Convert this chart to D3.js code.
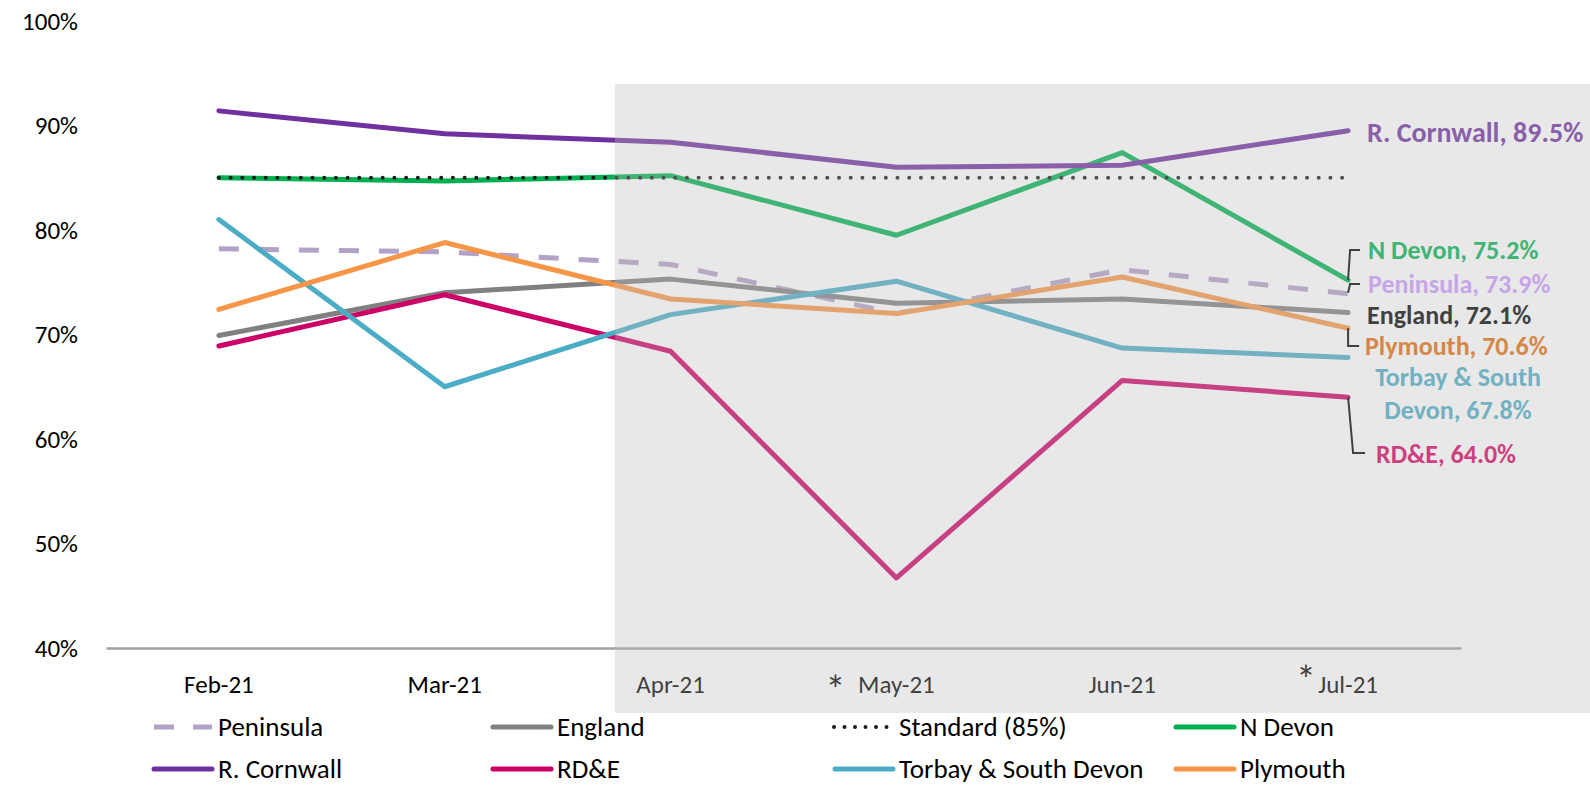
<!DOCTYPE html>
<html>
<head>
<meta charset="utf-8">
<script src="https://cdn.jsdelivr.net/npm/d3@7"></script>
<style>
  body { margin: 0; background: #fff; }
  svg { display: block; font-family: Carlito, Lato, sans-serif; }
</style>
</head>
<body>
<svg id="chart" width="1590" height="785"></svg>
<script>
// Chart data
const months = ["Feb-21", "Mar-21", "Apr-21", "May-21", "Jun-21", "Jul-21"];
const starred = ["May-21", "Jul-21"];
const yTicks = [40, 50, 60, 70, 80, 90, 100];

const peninsula = [78.2, 77.9, 76.7, 72.0, 76.2, 73.9];
const england = [69.9, 74.0, 75.3, 73.0, 73.4, 72.1];
const standard = [85, 85, 85, 85, 85, 85];
const nDevon = [85.0, 84.7, 85.2, 79.5, 87.4, 75.2];
const rCornwall = [91.4, 89.2, 88.4, 86.0, 86.2, 89.5];
const rdande = [68.9, 73.8, 68.4, 46.7, 65.6, 64.0];
const torbay = [81.0, 65.0, 71.9, 75.1, 68.7, 67.8];
const plymouth = [72.4, 78.8, 73.4, 72.0, 75.5, 70.6];

// Series table (draw order), styles kept here
const series = [
    { name: "Peninsula", values: peninsula, color: "#b3a2c7", dash: "20,20", cap: "butt" },
    { name: "England", values: england, color: "#808080" },
    { name: "N Devon", values: nDevon, color: "#00b050" },
    { name: "Standard (85%)", values: standard, color: "#1a1a1a", dash: "0,11.7", cap: "round", width: 4 },
    { name: "R. Cornwall", values: rCornwall, color: "#7030a0" },
    { name: "RD&E", values: rdande, color: "#cc0066" },
    { name: "Torbay & South Devon", values: torbay, color: "#4bacc6" },
    { name: "Plymouth", values: plymouth, color: "#f79646" }
];
const legendOrder = ["Peninsula", "England", "Standard (85%)", "N Devon",
    "R. Cornwall", "RD&E", "Torbay & South Devon", "Plymouth"];

const svg = d3.select("#chart");

// Scales
const x = d3.scalePoint().domain(months).range([106, 1461]).padding(0.5);
const y = d3.scaleLinear().domain([40, 100]).range([648, 21]);

// Y axis labels (no line, no ticks)
const yAxis = svg.append("g")
    .attr("transform", "translate(80,0)")
    .call(d3.axisLeft(y).tickValues(yTicks).tickSize(0).tickPadding(2).tickFormat(d => d + "%"))
    .attr("font-family", null)
    .attr("font-size", null);
yAxis.select(".domain").remove();
yAxis.selectAll("text").attr("font-size", 25).attr("fill", "#000");

// X axis line + labels
const xAxis = svg.append("g")
    .attr("transform", "translate(0,648)")
    .call(d3.axisBottom(d3.scaleBand().domain(months).range([106, 1461])).tickSize(0).tickPadding(27))
    .attr("font-family", null)
    .attr("font-size", null);
xAxis.select(".domain").attr("stroke", "#a0a0a0").attr("stroke-width", 2.5);
xAxis.selectAll("text").attr("font-size", 25).attr("fill", "#000");

// Asterisks on some months
svg.selectAll(".star")
    .data(starred)
    .enter().append("text")
    .attr("x", (d, i) => x(d) - (i == 0 ? 71 : 52))
    .attr("y", (d, i) => i == 0 ? 704 : 694)
    .attr("font-size", 40)
    .text("*");

// Lines
const line = d3.line()
    .x((d, i) => x(months[i]))
    .y(d => y(d));

svg.append("g").selectAll("path")
    .data(series)
    .enter().append("path")
    .attr("d", d => line(d.values))
    .attr("fill", "none")
    .attr("stroke", d => d.color)
    .attr("stroke-width", d => d.width || 5)
    .attr("stroke-dasharray", d => d.dash || null)
    .attr("stroke-linecap", d => d.cap || "round")
    .attr("stroke-linejoin", "round");

// End labels with leader brackets
const xEnd = x("Jul-21");
const last = arr => arr[arr.length - 1];
const labels = [
    { text: ["R. Cornwall, " + last(rCornwall).toFixed(1) + "%"], color: "#7030a0", y: 132, x: 1367, size: 28 },
    { text: ["N Devon, " + last(nDevon).toFixed(1) + "%"], color: "#00b050", y: 250, x: 1368, bracket: [[0, y(last(nDevon))], [2, 250], [12, 250]] },
    { text: ["Peninsula, " + last(peninsula).toFixed(1) + "%"], color: "#cc99ff", y: 284, x: 1368, bracket: [[0, y(last(peninsula)) - 1], [2, 284], [12, 284]] },
    { text: ["England, " + last(england).toFixed(1) + "%"], color: "#000000", y: 315, x: 1367 },
    { text: ["Plymouth, " + last(plymouth).toFixed(1) + "%"], color: "#e46c0a", y: 346, x: 1365, bracket: [[0, y(last(plymouth))], [0, 346], [11, 346]] },
    { text: ["Torbay & South", "Devon, " + last(torbay).toFixed(1) + "%"], color: "#4bacc6", y: 377, x: 1458, anchor: "middle" },
    { text: ["RD&E, " + last(rdande).toFixed(1) + "%"], color: "#d40061", y: 454, x: 1376, bracket: [[0, y(last(rdande))], [5, 453], [17, 453]] }
];

labels.forEach(l => {
    if (l.bracket) {
        svg.append("path")
            .attr("d", d3.line()(l.bracket.map(p => [xEnd + p[0], p[1]])))
            .attr("fill", "none")
            .attr("stroke", "#000")
            .attr("stroke-width", 2);
    }
    l.text.forEach((t, i) => {
        svg.append("text")
            .attr("x", l.x)
            .attr("y", l.y + i * 33)
            .attr("dy", "0.35em")
            .attr("text-anchor", l.anchor || "start")
            .attr("font-size", l.size || 26)
            .attr("font-weight", "bold")
            .attr("fill", l.color)
            .text(t);
    });
});

// Grey shading over the later months
svg.append("rect")
    .attr("x", 615)
    .attr("y", 84)
    .attr("width", 975)
    .attr("height", 629)
    .attr("fill", "rgb(188,188,188)")
    .attr("fill-opacity", 0.343)
    .attr("pointer-events", "none");

// Legend
const legendCols = [151, 490, 832, 1173];
const legendRows = [727, 769];
const legend = svg.append("g").selectAll("g")
    .data(legendOrder.map(n => series.find(s => s.name == n)))
    .enter().append("g")
    .attr("transform", (d, i) => "translate(" + legendCols[i % 4] + "," + legendRows[Math.floor(i / 4)] + ")");

legend.append("line")
    .attr("x1", d => d.cap == "round" && d.dash ? 2 : 3)
    .attr("x2", 61)
    .attr("stroke", d => d.color)
    .attr("stroke-width", d => d.width || 5)
    .attr("stroke-dasharray", d => d.dash ? (d.cap == "round" ? "0,10.5" : "20,19") : null)
    .attr("stroke-linecap", d => d.cap || "round");

legend.append("text")
    .attr("x", 67)
    .attr("dy", "0.35em")
    .attr("font-size", 27)
    .attr("fill", "#000")
    .text(d => d.name);
</script>
</body>
</html>
